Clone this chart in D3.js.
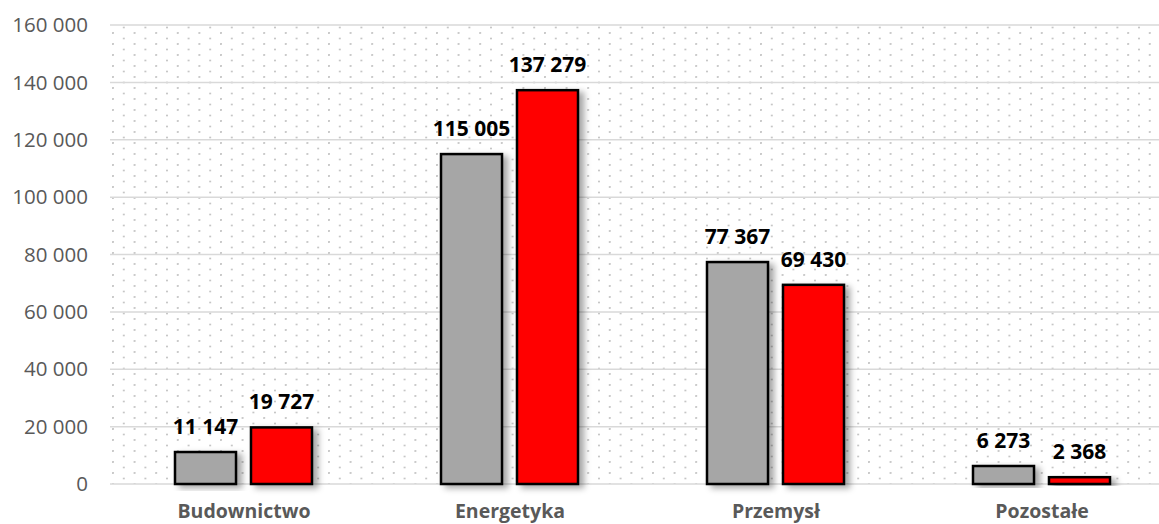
<!DOCTYPE html>
<html>
<head>
<meta charset="utf-8">
<script src="https://cdn.jsdelivr.net/npm/d3@7.9.0/dist/d3.min.js"></script>
<style>
  body { margin: 0; background: #fff; }
  svg { display: block; font-family: "Open Sans", sans-serif; }
</style>
</head>
<body>
<svg width="1159" height="524"></svg>
<script>
const categories = ['Budownictwo', 'Energetyka', 'Przemysł', 'Pozostałe'];
const seriesGray = [11147, 115005, 77367, 6273];
const seriesRed = [19727, 137279, 69430, 2368];
const yTicks = [0, 20000, 40000, 60000, 80000, 100000, 120000, 140000, 160000];

const svg = d3.select('svg');
const fmt = (v) => d3.format(',')(v).replace(/,/g, ' ');

// pattern of dots for plot background
const defs = svg.append('defs');
const pat = defs.append('pattern')
  .attr('id', 'dots')
  .attr('patternUnits', 'userSpaceOnUse')
  .attr('width', 21.6).attr('height', 11)
  .attr('x', 4).attr('y', 32);
pat.append('circle').attr('cx', 1).attr('cy', 1).attr('r', 1.05).attr('fill', '#c4c4c4');
pat.append('circle').attr('cx', 11.8).attr('cy', 6.5).attr('r', 1.05).attr('fill', '#c4c4c4');

const shadow = defs.append('filter').attr('id', 'shadow')
  .attr('x', '-20%').attr('y', '-20%').attr('width', '160%').attr('height', '140%');
shadow.append('feDropShadow')
  .attr('dx', 5).attr('dy', 3).attr('stdDeviation', 3)
  .attr('flood-color', '#000').attr('flood-opacity', 0.35);

const x = d3.scaleBand().domain(categories).range([110, 1174]).paddingInner(0);
const xs = d3.scaleBand().domain(['gray', 'red']).range([65, 202]).paddingInner(0.197);
const y = d3.scaleLinear().domain([0, 160000]).range([484, 25]);

svg.append('rect')
  .attr('x', 110).attr('y', y(160000))
  .attr('width', 1159 - 110).attr('height', y(0) - y(160000))
  .attr('fill', 'url(#dots)');

// gridlines
svg.append('g').selectAll('line').data(yTicks).join('line')
  .attr('x1', 110).attr('x2', 1159)
  .attr('y1', (d) => y(d)).attr('y2', (d) => y(d))
  .attr('stroke', '#d9d9d9').attr('stroke-width', 1.5);

// y tick labels
svg.append('g').selectAll('text').data(yTicks).join('text')
  .attr('x', 88).attr('y', (d) => y(d))
  .attr('dy', '0.35em')
  .attr('text-anchor', 'end')
  .attr('fill', '#595959')
  .attr('font-size', 20.5)
  .text(fmt);

const rows = categories.map((c, i) => [
  { cat: c, key: 'gray', value: seriesGray[i], color: '#a6a6a6' },
  { cat: c, key: 'red', value: seriesRed[i], color: '#ff0000' }
]).flat();

svg.append('g').selectAll('rect').data(rows).join('rect')
  .attr('x', (d) => x(d.cat) + xs(d.key))
  .attr('y', (d) => y(d.value))
  .attr('width', xs.bandwidth())
  .attr('height', (d) => y(0) - y(d.value))
  .attr('fill', (d) => d.color)
  .attr('stroke', '#000')
  .attr('stroke-width', 2.5)
  .attr('filter', 'url(#shadow)');

// value labels
svg.append('g').selectAll('text').data(rows).join('text')
  .attr('x', (d) => x(d.cat) + xs(d.key) + xs.bandwidth() / 2)
  .attr('y', (d) => y(d.value) - 18)
  .attr('text-anchor', 'middle')
  .attr('font-size', 21)
  .attr('font-weight', 'bold')
  .attr('fill', '#000')
  .text((d) => fmt(d.value));

// category labels
svg.append('g').selectAll('text').data(categories).join('text')
  .attr('x', (d) => x(d) + 134)
  .attr('y', 518)
  .attr('text-anchor', 'middle')
  .attr('font-size', 19.5)
  .attr('font-weight', 'bold')
  .attr('fill', '#595959')
  .text((d) => d);
</script>
</body>
</html>
